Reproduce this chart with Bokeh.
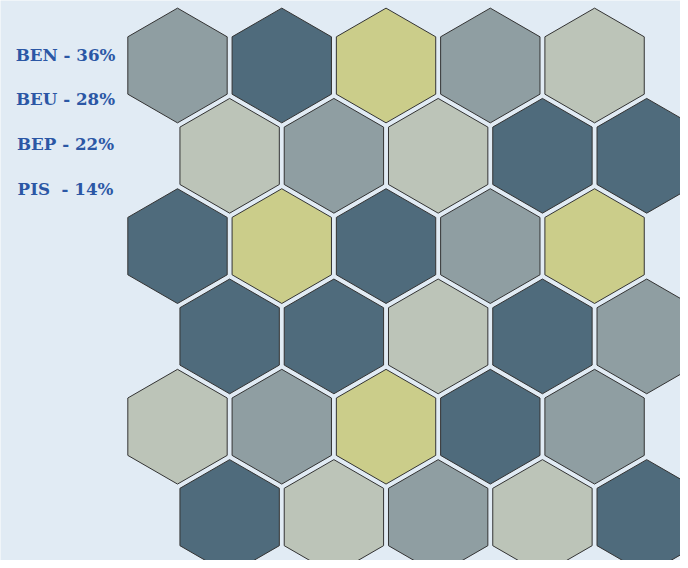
import math
from bokeh.plotting import figure
from bokeh.models import Range1d, ColumnDataSource
from bokeh.core.properties import value
from bokeh.embed import file_html
from bokeh.resources import INLINE

# ---- data ----
categories = ["BEN", "BEU", "BEP", "PIS"]
percentages = [36, 28, 22, 14]
label_texts = ["BEN - 36%", "BEU - 28%", "BEP - 22%", "PIS\u00a0 - 14%"]
colors = ["#4f6b7c", "#8f9ea2", "#bcc4b8", "#cbcd8a"]

grid_rows = [
    ["BEU", "BEN", "PIS", "BEU", "BEP"],
    ["BEP", "BEU", "BEP", "BEN", "BEN"],
    ["BEN", "PIS", "BEN", "BEU", "PIS"],
    ["BEN", "BEN", "BEP", "BEN", "BEU"],
    ["BEP", "BEU", "PIS", "BEN", "BEU"],
    ["BEN", "BEP", "BEU", "BEP", "BEN"],
]

# ---- layout ----
W, H = 680, 560
HEX_SIZE = 60.2
HEX_SCALE = 0.953
ORIGIN_X, ORIGIN_Y = 177, 65   # pixel position of first hex centre in the figure
BG = "#e1ebf4"

cmap = dict(zip(categories, colors))
qs, rs, fills = [], [], []
for r, row in enumerate(grid_rows):
    for c, cat in enumerate(row):
        qs.append(c - r // 2)
        rs.append(r)
        fills.append(cmap[cat])

src = ColumnDataSource(dict(q=qs, r=rs, fill=fills))

p = figure(width=W, height=H, output_backend="svg", toolbar_location=None,
           x_range=Range1d(-ORIGIN_X, W - ORIGIN_X),
           y_range=Range1d(ORIGIN_Y - H, ORIGIN_Y),
           min_border=0)
p.axis.visible = False
p.grid.visible = False
p.outline_line_color = None
p.background_fill_color = BG
p.border_fill_color = BG

p.hex_tile(q="q", r="r", size=HEX_SIZE, scale=HEX_SCALE, orientation="pointytop",
           fill_color="fill", line_color="#333333", line_width=1, source=src)

label_x = 65 - ORIGIN_X
label_y0 = ORIGIN_Y - 54
label_step = 44.7
lsrc = ColumnDataSource(dict(
    x=[label_x] * len(label_texts),
    y=[label_y0 - i * label_step for i in range(len(label_texts))],
    t=label_texts))
p.text(x="x", y="y", text="t", source=lsrc, text_font=value("DejaVu Serif"),
       text_font_style="bold", text_font_size="16.7px", text_color="#2b57a5",
       text_align="center", text_baseline="middle")

open("out.html", "w").write(file_html(p, INLINE))
